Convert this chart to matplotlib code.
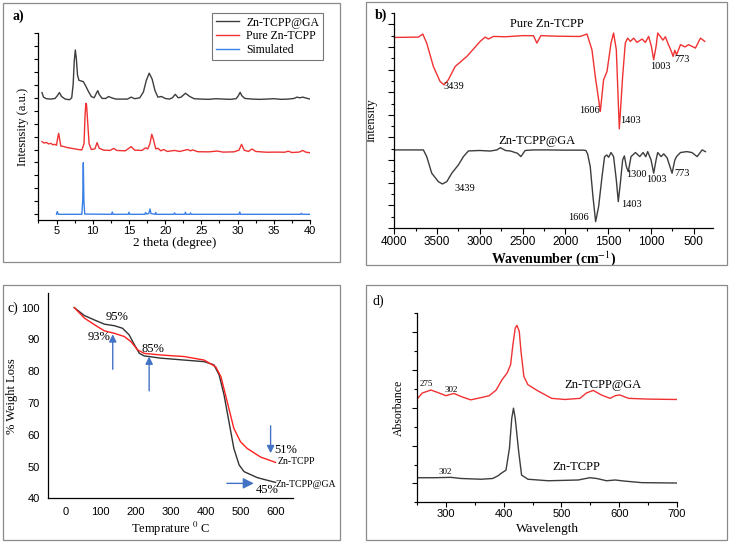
import numpy as np
import matplotlib
matplotlib.use('Agg')
import matplotlib.pyplot as plt
from matplotlib.patches import Rectangle

plt.rcParams['font.family'] = ['Liberation Serif', 'DejaVu Serif']
plt.rcParams['mathtext.fontset'] = 'stix'
SANS = 'Liberation Sans'

# ---------------- a) XRD ----------------
xrd_ga_x = [3.0, 3.2, 3.6, 4.2, 4.8, 5.1, 5.4, 5.7, 6.2, 6.8, 7.1, 7.3, 7.45, 7.6, 7.75, 7.9, 8.1, 8.4,
            8.7, 9.0, 9.4, 9.8, 10.2, 10.5, 10.7, 10.9, 11.3, 11.8, 12.2, 12.6, 13.2, 14.0, 14.8, 15.3,
            15.8, 16.5, 17.0, 17.4, 17.8, 18.2, 18.6, 19.0, 19.5, 20.0, 20.6, 21.0, 21.4, 21.8, 22.2,
            22.8, 23.4, 24.0, 25.0, 26.0, 27.0, 28.0, 29.0, 29.8, 30.1, 30.35, 30.6, 31.0, 32.0, 33.0,
            34.0, 35.0, 36.0, 37.0, 37.8, 38.2, 38.6, 39.0, 39.5, 40.0]
xrd_ga_y = [9.85, 9.5, 9.38, 9.35, 9.4, 9.6, 9.85, 9.55, 9.35, 9.3, 9.45, 10.5, 12.3, 13.15, 12.4, 11.2,
            10.8, 10.75, 10.7, 10.4, 9.95, 9.55, 9.45, 9.8, 10.0, 9.7, 9.4, 9.4, 9.55, 9.45, 9.35, 9.35,
            9.35, 9.5, 9.38, 9.45, 9.9, 10.8, 11.35, 10.9, 10.0, 9.5, 9.55, 9.4, 9.35, 9.45, 9.72, 9.45,
            9.5, 9.8, 9.55, 9.38, 9.35, 9.33, 9.38, 9.35, 9.33, 9.38, 9.6, 9.87, 9.6, 9.4, 9.35, 9.33,
            9.35, 9.38, 9.33, 9.35, 9.4, 9.5, 9.45, 9.5, 9.42, 9.35]

xrd_pure_x = [3.0, 3.3, 3.6, 3.9, 4.2, 4.5, 4.8, 5.0, 5.15, 5.3, 5.45, 5.6, 6.0, 6.5, 7.0, 7.5, 8.0, 8.5,
              8.8, 8.95, 9.05, 9.15, 9.3, 9.5, 9.8, 10.3, 10.6, 10.9, 11.5, 12.4, 12.9, 13.3, 14.5,
              15.3, 15.8, 16.8, 17.3, 17.6, 17.9, 18.15, 18.4, 18.7, 19.0, 19.4, 19.8, 20.3, 21.3,
              22.0, 23.1, 23.5, 23.8, 24.5, 26.0, 27.2, 28.0, 29.5, 30.2, 30.55, 30.9, 31.5, 32.0,
              32.5, 34.0, 35.5, 36.5, 37.0, 37.5, 38.5, 39.0, 39.4, 40.0]
xrd_pure_y = [6.06, 5.95, 6.0, 5.88, 5.93, 5.82, 5.85, 5.78, 6.3, 6.7, 6.2, 5.72, 5.68, 5.6, 5.55, 5.5,
              5.45, 5.42, 5.9, 8.2, 9.02, 8.9, 7.6, 5.9, 5.45, 5.5, 5.98, 5.55, 5.4, 5.38, 5.54, 5.38,
              5.35, 5.67, 5.4, 5.38, 5.58, 5.5, 5.9, 6.63, 6.2, 5.5, 5.55, 5.35, 5.45, 5.3, 5.38, 5.3,
              5.45, 5.35, 5.42, 5.28, 5.27, 5.33, 5.25, 5.27, 5.4, 5.85, 5.4, 5.3, 5.49, 5.3, 5.24,
              5.25, 5.24, 5.32, 5.22, 5.25, 5.38, 5.25, 5.2]

xrd_sim_x = [5.0, 5.1, 5.25, 8.5, 8.62, 8.7, 8.78, 8.9, 12.6, 12.7, 12.8, 14.9, 15.0, 15.1, 17.2, 17.3,
             17.45, 17.75, 17.9, 18.05, 18.6, 18.7, 18.8, 21.2, 21.3, 21.4, 22.7, 22.8, 22.9, 23.4,
             23.5, 23.6, 30.2, 30.3, 30.4, 38.7, 38.8, 38.9, 40.0]
xrd_sim_y = [0.44, 0.65, 0.44, 0.44, 1.5, 4.43, 1.5, 0.46, 0.44, 0.62, 0.44, 0.44, 0.6, 0.44, 0.44, 0.58,
             0.46, 0.5, 0.85, 0.5, 0.44, 0.58, 0.44, 0.44, 0.55, 0.44, 0.44, 0.6, 0.44, 0.44, 0.55,
             0.44, 0.44, 0.62, 0.44, 0.44, 0.52, 0.44, 0.44]

# ---------------- b) FTIR ----------------
ir_pure_x = [4000, 3719, 3667, 3621, 3543, 3465, 3418, 3368, 3289, 3152, 2996, 2938, 2899, 2841, 2700,
             2500, 2372, 2333, 2286, 2100, 1900, 1825, 1747, 1689, 1650, 1591, 1553, 1513, 1466, 1436,
             1404, 1369, 1330, 1299, 1272, 1240, 1201, 1162, 1103, 1064, 1026, 994, 967, 939, 920,
             889, 860, 830, 800, 760, 740, 720, 700, 654, 600, 560, 518, 479, 420, 370]
ir_pure_y = [16.84, 16.87, 17.14, 16.34, 14.27, 12.95, 12.65, 13.1, 14.27, 15.16, 16.49, 16.87, 16.7,
             16.93, 16.9, 17.0, 16.99, 16.34, 17.0, 16.95, 16.93, 16.93, 17.14, 15.75, 13.4, 10.3,
             13.1, 13.83, 16.34, 17.23, 15.75, 8.76, 13.4, 16.34, 16.78, 16.49, 16.78, 16.4, 16.7,
             16.4, 16.93, 16.05, 14.87, 16.05, 17.23, 16.93, 16.6, 16.9, 16.3, 15.6, 15.16, 15.7,
             15.3, 16.2, 16.0, 16.2, 16.05, 15.9, 16.78, 16.49]

ir_ga_x = [4000, 3660, 3621, 3562, 3485, 3438, 3386, 3328, 3250, 3192, 3133, 3000, 2880, 2800, 2760,
           2700, 2640, 2560, 2520, 2470, 2380, 2200, 2000, 1787, 1760, 1740, 1709, 1677, 1646, 1611,
           1571, 1541, 1515, 1494, 1466, 1436, 1404, 1381, 1357, 1330, 1310, 1287, 1264, 1232, 1180,
           1130, 1091, 1060, 1037, 998, 967, 939, 920, 880, 850, 810, 752, 720, 700, 654, 580, 520,
           459, 400, 362]
ir_ga_y = [6.9, 6.9, 6.31, 4.84, 4.1, 3.89, 4.1, 4.84, 5.58, 6.31, 6.81, 6.85, 6.8, 6.9, 7.1, 6.85,
           6.8, 6.6, 6.31, 6.85, 6.9, 6.9, 6.88, 6.88, 6.85, 6.55, 5.43, 2.77, 0.56, 1.89, 4.54, 6.31,
           6.45, 6.25, 6.67, 6.31, 4.25, 2.33, 3.95, 6.02, 6.37, 5.43, 4.98, 6.31, 6.67, 6.31, 6.67,
           6.3, 6.75, 6.02, 4.84, 6.02, 6.67, 6.31, 6.55, 6.2, 4.84, 6.0, 6.31, 6.67, 6.75, 6.67,
           6.31, 6.9, 6.75]

ir_pure_labels = [('3439', 3300, 12.5), ('1606', 1720, 10.4), ('1403', 1240, 9.5),
                  ('1003', 889, 14.3), ('773', 635, 14.85)]
ir_ga_labels = [('3439', 3180, 3.5), ('1606', 1850, 0.95), ('1403', 1232, 2.1),
                ('1300', 1173, 4.72), ('1003', 939, 4.25), ('773', 635, 4.78)]

# ---------------- c) TGA ----------------
tga_ga_x = [25, 54, 83, 111, 140, 163, 182, 197, 211, 225, 272, 339, 396, 424, 439, 453, 467, 481, 496,
            510, 548, 600]
tga_ga_y = [100, 97.5, 96.1, 94.8, 94.3, 93.5, 91.4, 88.3, 85.6, 84.8, 84.1, 83.5, 83.0, 82.0, 78.8,
            72.5, 64.1, 55.7, 50.5, 48.4, 46.5, 45.0]
tga_pure_x = [25, 54, 83, 111, 140, 168, 187, 206, 225, 272, 339, 396, 429, 444, 462, 481, 500, 519,
              557, 600]
tga_pure_y = [100, 96.7, 94.6, 92.7, 91.9, 90.9, 89.3, 86.7, 85.6, 85.1, 84.6, 83.5, 81.4, 78.3, 70.4,
              62.0, 57.8, 55.7, 53.0, 51.3]
tga_text = [('95%', 146, 97.2, 9), ('93%', 97, 90.6, 9), ('85%', 251, 87.1, 9), ('51%', 630, 55.2, 9),
            ('45%', 576, 42.6, 9), ('Zn-TCPP', 660, 51.5, 7), ('Zn-TCPP@GA', 686, 44.2, 7)]
# arrows: (x_tail, y_tail, x_head, y_head)
tga_arrows = [(135, 80.6, 135, 91.6), (239, 73.8, 239, 84.6), (586, 62.8, 586, 54.2), (461, 44.7, 538, 44.7)]

# ---------------- d) UV-vis ----------------
uv_ga_x = [250, 259, 274, 285, 300, 314, 326, 343, 361, 375, 387, 397, 406, 412, 416, 420, 423, 427,
           430, 435, 442, 459, 483, 506, 532, 543, 555, 569, 584, 593, 601, 616, 651, 700]
uv_ga_y = [2.23, 2.39, 2.47, 2.41, 2.32, 2.38, 2.30, 2.21, 2.27, 2.32, 2.47, 2.74, 2.92, 3.14, 3.67,
           4.11, 4.18, 4.02, 3.49, 2.83, 2.61, 2.45, 2.25, 2.22, 2.25, 2.39, 2.46, 2.34, 2.25, 2.32,
           2.34, 2.25, 2.23, 2.22]
uv_pure_x = [250, 280, 309, 326, 361, 381, 390, 397, 404, 410, 414, 417, 420, 426, 431, 442, 477, 529,
             549, 561, 578, 593, 610, 639, 700]
uv_pure_y = [0.15, 0.15, 0.16, 0.13, 0.11, 0.13, 0.2, 0.28, 0.35, 0.93, 1.72, 1.99, 1.72, 0.84, 0.22,
             0.11, 0.07, 0.09, 0.15, 0.13, 0.07, 0.09, 0.06, 0.02, 0.01]

W, H = 730, 542
fig = plt.figure(figsize=(W / 100, H / 100), dpi=100)


def rect(l, r, t, b):
    return [l / W, 1 - b / H, (r - l) / W, (b - t) / H]


for (l, r, t, b) in [(3, 340, 3, 262), (366, 727, 2, 265), (3, 340, 285, 540), (366, 727, 285, 540)]:
    fig.add_artist(Rectangle((l / W, 1 - b / H), (r - l) / W, (b - t) / H, transform=fig.transFigure,
                             fill=False, ec='#8a8a8a', lw=0.9))


def style(ax, sans_ticks=True):
    for s in ['top', 'right']:
        ax.spines[s].set_visible(False)
    for s in ['left', 'bottom']:
        ax.spines[s].set_linewidth(0.9)
    if sans_ticks:
        for t in ax.get_xticklabels():
            t.set_fontfamily(SANS)


BLACK = '#3d3d3d'
RED = '#f03232'
BLUE = '#3a80e6'

# a)
ax = fig.add_axes(rect(38.4, 310, 33, 220))
ax.plot(xrd_ga_x, xrd_ga_y, color=BLACK, lw=1.0, label='Zn-TCPP@GA')
ax.plot(xrd_pure_x, xrd_pure_y, color=RED, lw=1.0, label='Pure Zn-TCPP')
ax.plot(xrd_sim_x, xrd_sim_y, color=BLUE, lw=1.0, label='Simulated')
ax.set_xlim(3, 40)
ax.set_ylim(0, 14.46)
ax.set_xticks(np.arange(5, 41, 5))
ax.set_xticks(np.arange(2.5, 40.1, 2.5), minor=True)
ax.set_yticks(np.arange(0.45, 14.5, 1.0))
ax.set_yticklabels([])
ax.tick_params(axis='both', which='major', length=3, width=0.8, labelsize=8, pad=1)
ax.tick_params(axis='x', which='minor', length=2, width=0.8)
style(ax)
ax.set_xlabel('2 theta (degree)', fontsize=9.5)
ax.xaxis.set_label_coords(0.5, -0.093)
ax.set_ylabel('Intesnsity (a.u.)', fontsize=9)
ax.yaxis.set_label_coords(-0.036, 0.5)
leg = ax.legend(loc='upper right', bbox_to_anchor=(1.048, 1.107), fontsize=8.5, frameon=True, fancybox=False,
                edgecolor='#555555', borderpad=0.3, labelspacing=0.15, handlelength=2.0, handletextpad=0.6,
                borderaxespad=0)
leg.get_frame().set_linewidth(0.8)
fig.text(18 / W, 1 - 16 / H, 'a)', fontsize=10, fontweight='bold', va='center', ha='center')

# b)
ax = fig.add_axes(rect(394.3, 713.3, 13, 228))
ax.plot(ir_pure_x, ir_pure_y, color=RED, lw=1.0)
ax.plot(ir_ga_x, ir_ga_y, color=BLACK, lw=1.0)
ax.set_xlim(4000, 270)
ax.set_ylim(0, 19)
ax.set_xticks(np.arange(4000, 499, -500))
ax.set_xticks(np.arange(3750, 299, -250), minor=True)
ax.set_yticks(np.arange(0, 19.1, 2))
ax.set_yticks(np.arange(1, 19.1, 2), minor=True)
ax.set_yticklabels([])
ax.tick_params(axis='both', which='major', length=4, width=0.8, labelsize=8.5, pad=2)
ax.tick_params(axis='both', which='minor', length=2.5, width=0.8)
style(ax)
ax.set_xlabel('Wavenumber (cm$^{-1}$)', fontsize=10, fontweight='semibold')
ax.xaxis.set_label_coords(0.5, -0.098)
ax.set_ylabel('Intensity', fontsize=9)
ax.yaxis.set_label_coords(-0.054, 0.5)
ax.text(2215, 18.05, 'Pure Zn-TCPP', fontsize=9, ha='center', va='center')
ax.text(2333, 7.73, 'Zn-TCPP@GA', fontsize=9, ha='center', va='center')
for lab, x, y in ir_pure_labels + ir_ga_labels:
    ax.text(x, y, lab, fontsize=7.5, ha='center', va='center')
fig.text(381 / W, 1 - 15 / H, 'b)', fontsize=10, fontweight='bold', va='center', ha='center')

# c)
ax = fig.add_axes(rect(48, 293, 293, 498.3))
ax.plot(tga_ga_x, tga_ga_y, color='#333333', lw=1.0)
ax.plot(tga_pure_x, tga_pure_y, color='#ff2020', lw=1.0)
ax.set_xlim(-50, 650)
ax.set_ylim(40, 104.6)
ax.set_xticks(np.arange(0, 601, 100))
ax.set_yticks(np.arange(40, 101, 10))
ax.tick_params(axis='both', length=0, labelsize=8, pad=6)
style(ax)
for t in ax.get_yticklabels():
    t.set_fontfamily(SANS)
ax.set_xlabel('Temprature $^{0}$ C', fontsize=9)
ax.xaxis.set_label_coords(0.5, -0.106)
ax.set_ylabel('% Weight Loss', fontsize=9)
ax.yaxis.set_label_coords(-0.122, 0.5)
for lab, x, y, fs in tga_text:
    ax.text(x, y, lab, fontsize=fs, ha='center', va='center', clip_on=False)
for i, (x0, y0, x1, y1) in enumerate(tga_arrows):
    ms = 16 if i == 3 else 11
    ax.annotate('', xy=(x1, y1), xytext=(x0, y0),
                arrowprops=dict(arrowstyle='-|>', color='#4472c4', lw=1.0, mutation_scale=ms,
                                shrinkA=0, shrinkB=0))
fig.text(13 / W, 1 - 308 / H, 'c)', fontsize=10, va='center', ha='center')

# d)
ax = fig.add_axes(rect(417, 677, 313.3, 502.3))
ax.plot(uv_ga_x, uv_ga_y, color=RED, lw=1.0)
ax.plot(uv_pure_x, uv_pure_y, color=BLACK, lw=1.0)
ax.set_xlim(250, 700)
ax.set_ylim(-0.5, 4.5)
ax.set_xticks(np.arange(300, 701, 100))
ax.set_xticks(np.arange(250, 701, 50), minor=True)
ax.set_yticks(np.arange(0, 4.1, 1))
ax.set_yticks(np.arange(-0.5, 4.6, 0.5), minor=True)
ax.set_yticklabels([])
ax.tick_params(axis='both', which='major', length=3.5, width=0.8, labelsize=8, pad=1)
ax.tick_params(axis='both', which='minor', length=2.5, width=0.8)
style(ax)
ax.set_xlabel('Wavelength', fontsize=9.5)
ax.xaxis.set_label_coords(0.5, -0.108)
ax.set_ylabel('Absorbance', fontsize=8.5)
ax.yaxis.set_label_coords(-0.046, 0.5)
ax.text(267, 2.63, '275', fontsize=6.5, ha='center', va='center')
ax.text(310, 2.47, '302', fontsize=6.5, ha='center', va='center')
ax.text(299, 0.29, '302', fontsize=6.5, ha='center', va='center')
ax.text(572, 2.59, 'Zn-TCPP@GA', fontsize=9, ha='center', va='center')
ax.text(526, 0.44, 'Zn-TCPP', fontsize=9, ha='center', va='center')
fig.text(378 / W, 1 - 301 / H, 'd)', fontsize=10, va='center', ha='center')

fig.savefig('out.png', dpi=100)
